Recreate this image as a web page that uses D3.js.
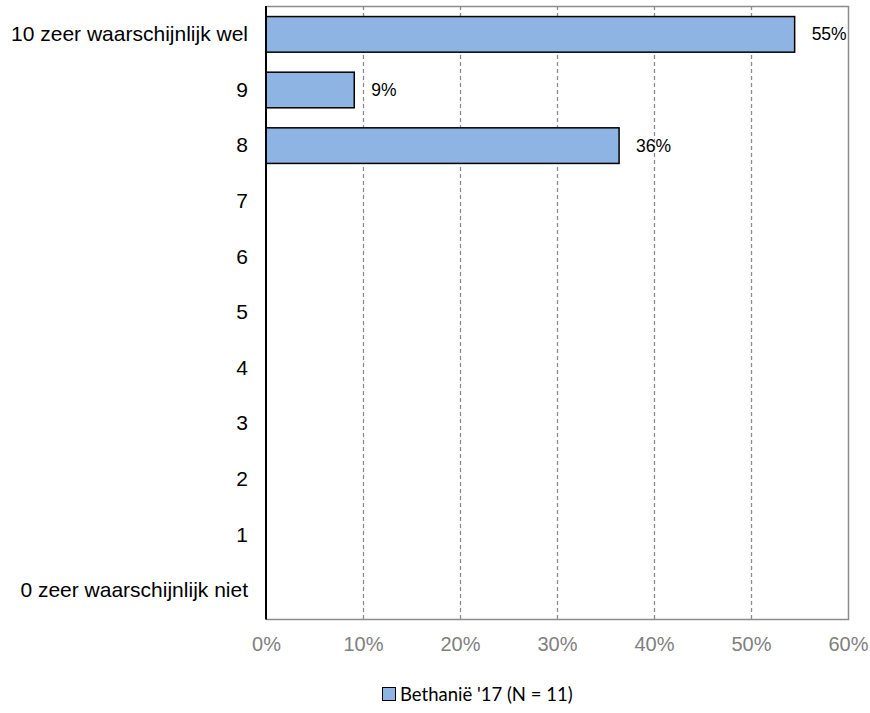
<!DOCTYPE html>
<html>
<head>
<meta charset="utf-8">
<script src="https://cdn.jsdelivr.net/npm/d3@7"></script>
<style>
  html, body { margin: 0; padding: 0; background: #fff; }
  svg { display: block; }
</style>
</head>
<body>
<svg id="chart" width="870" height="713"></svg>
<script>
// Answer categories, top to bottom
const categories = [
  "10 zeer waarschijnlijk wel", "9", "8", "7", "6", "5", "4", "3", "2", "1",
  "0 zeer waarschijnlijk niet"
];
// Share of respondents per answer (percent)
const values = [54.5, 9.1, 36.4, 0, 0, 0, 0, 0, 0, 0, 0];
const xTicks = [0, 10, 20, 30, 40, 50, 60];
const seriesName = "Bethanië '17 (N = 11)";

const svg = d3.select("#chart");
const plotLeft = 266, plotRight = 848, plotTop = 6, plotBottom = 619;
const sans = "'Liberation Sans', Arial, sans-serif";

const x = d3.scaleLinear().domain([0, 60]).range([plotLeft, plotRight]);
const y = d3.scaleBand().domain(categories).range([plotTop, plotBottom])
  .paddingInner(0.36).paddingOuter(0.19);

// Dashed vertical gridlines
svg.append("g")
  .selectAll("line")
  .data(xTicks.filter(t => t > 0 && t < 60))
  .join("line")
  .attr("x1", d => x(d) + 0.5).attr("x2", d => x(d) + 0.5)
  .attr("y1", plotTop).attr("y2", plotBottom)
  .attr("stroke", "#8c8c8c").attr("stroke-width", 1.3)
  .attr("stroke-dasharray", "4,3");

// Plot frame: grey top, right, bottom
svg.append("path")
  .attr("d", `M${plotLeft},${plotTop + 0.5}H${plotRight + 0.5}V${plotBottom + 0.5}H${plotLeft}`)
  .attr("fill", "none").attr("stroke", "#8c8c8c").attr("stroke-width", 1.5);

// Bottom axis tick labels
const xAxis = d3.axisBottom(x).tickValues(xTicks).tickFormat(d => d + "%").tickSize(0).tickPadding(18);
const gx = svg.append("g").attr("transform", `translate(0,${plotBottom})`).call(xAxis);
gx.select(".domain").remove();
gx.selectAll("text")
  .attr("fill", "#808080")
  .style("font-family", sans)
  .style("font-size", "20px");

// Bars
const data = categories.map((c, i) => ({ c, v: values[i] }));
svg.append("g")
  .selectAll("rect")
  .data(data.filter(d => d.v > 0))
  .join("rect")
  .attr("x", x(0))
  .attr("y", d => y(d.c))
  .attr("width", d => x(d.v) - x(0))
  .attr("height", y.bandwidth())
  .attr("fill", "#8eb4e3")
  .attr("stroke", "#000").attr("stroke-width", 1.5);

// Value labels
svg.append("g")
  .selectAll("text")
  .data(data.filter(d => d.v > 0))
  .join("text")
  .attr("x", d => x(d.v) + 17)
  .attr("y", d => y(d.c) + y.bandwidth() / 2)
  .attr("dy", "0.35em")
  .attr("fill", "#000")
  .style("font-family", sans)
  .style("font-size", "17.5px")
  .text(d => Math.round(d.v) + "%");

// Category axis
const yAxis = d3.axisLeft(y).tickSize(0).tickPadding(18);
const gy = svg.append("g").attr("transform", `translate(${plotLeft},0)`).call(yAxis);
gy.select(".domain").remove();
gy.selectAll("text")
  .attr("fill", "#000")
  .style("font-family", sans)
  .style("font-size", "21px");
svg.append("line")
  .attr("x1", plotLeft).attr("x2", plotLeft)
  .attr("y1", plotTop).attr("y2", plotBottom + 0.5)
  .attr("stroke", "#000").attr("stroke-width", 2);

// Legend
const legend = svg.append("g").attr("transform", "translate(382,687)");
legend.append("rect")
  .attr("x", 0.5).attr("y", 0.5).attr("width", 13).attr("height", 13)
  .attr("fill", "#8eb4e3").attr("stroke", "#000").attr("stroke-width", 1);
legend.append("text")
  .attr("x", 18).attr("y", 14)
  .attr("fill", "#000")
  .style("font-family", "Lato, 'Open Sans', sans-serif")
  .style("font-size", "18.5px")
  .text(seriesName);
</script>
</body>
</html>
